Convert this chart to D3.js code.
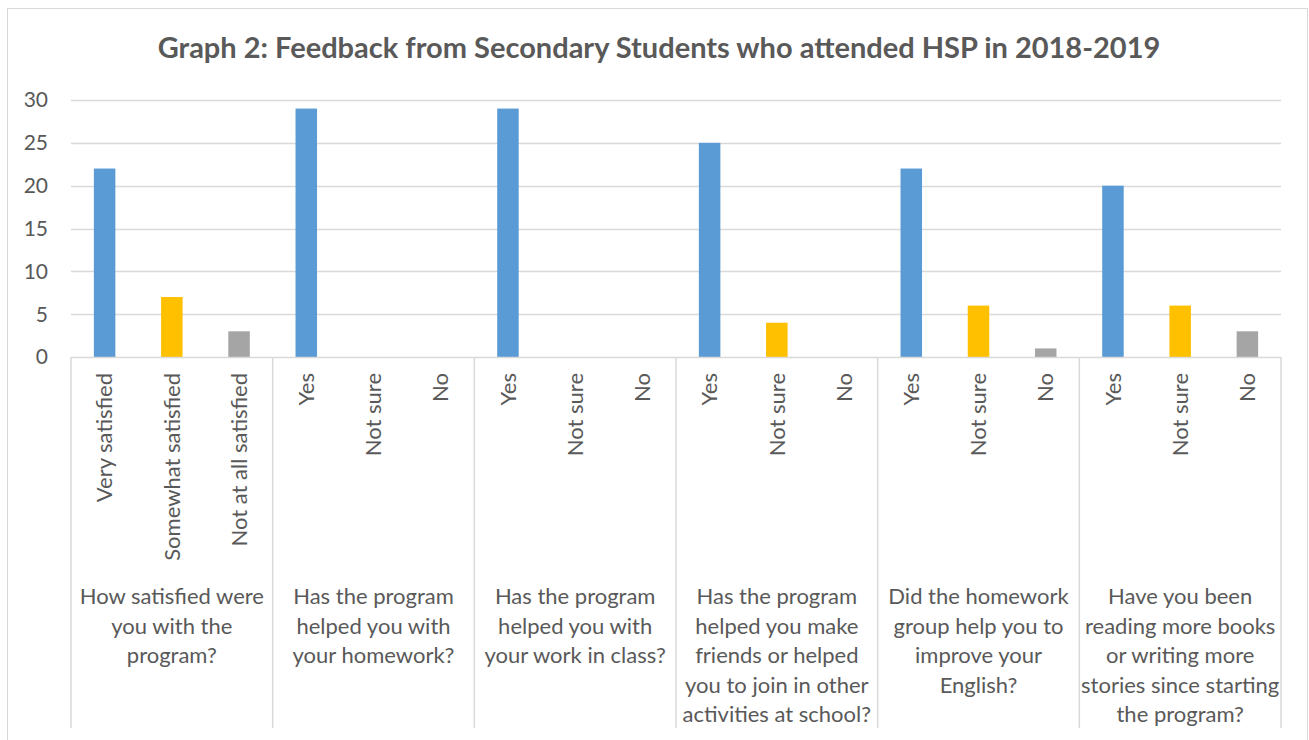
<!DOCTYPE html>
<html>
<head>
<meta charset="utf-8">
<script src="https://cdn.jsdelivr.net/npm/d3@7"></script>
<style>
  body { margin: 0; background: #fff; }
  svg { display: block; font-family: Lato, "Open Sans", sans-serif; }
</style>
</head>
<body>
<div id="chart"></div>
<script>
// groups (questions) and the answer options under each
var groups = [
  ["How satisfied were", "you with the", "program?"],
  ["Has the program", "helped you with", "your homework?"],
  ["Has the program", "helped you with", "your work in class?"],
  ["Has the program", "helped you make", "friends or helped", "you to join in other", "activities at school?"],
  ["Did the homework", "group help you to", "improve your", "English?"],
  ["Have you been", "reading more books", "or writing more", "stories since starting", "the program?"]
];
var answers = [
  ["Very satisfied", "Somewhat satisfied", "Not at all satisfied"],
  ["Yes", "Not sure", "No"],
  ["Yes", "Not sure", "No"],
  ["Yes", "Not sure", "No"],
  ["Yes", "Not sure", "No"],
  ["Yes", "Not sure", "No"]
];
var counts = [
  [22, 7, 3],
  [29, 0, 0],
  [29, 0, 0],
  [25, 4, 0],
  [22, 6, 1],
  [20, 6, 3]
];
var colors = ["#5B9BD5", "#FFC000", "#A5A5A5"];
var yTicks = [0, 5, 10, 15, 20, 25, 30];
var title = "Graph 2: Feedback from Secondary Students who attended HSP in 2018-2019";

var W = 1309, H = 740;
var margin = {left: 71, right: 28, top: 100, bottom: 383};

var svg = d3.select("#chart").append("svg")
  .attr("width", W).attr("height", H);

// chart border
svg.append("rect")
  .attr("x", 7.5).attr("y", 8.5)
  .attr("width", 1300).attr("height", 760)
  .attr("fill", "none").attr("stroke", "#d9d9d9");

svg.append("text")
  .attr("x", 659).attr("y", 58)
  .attr("text-anchor", "middle")
  .attr("fill", "#595959")
  .style("font-size", "29px").style("font-weight", "bold")
  .text(title);

// flatten into one row per bar
var rows = [];
counts.forEach(function(g, gi) {
  g.forEach(function(v, ai) {
    rows.push({g: gi, a: ai, key: gi + "-" + ai, label: answers[gi][ai], value: v});
  });
});

var x = d3.scaleBand()
  .domain(rows.map(function(d) { return d.key; }))
  .range([margin.left, W - margin.right])
  .paddingInner(0.68).paddingOuter(0.34);

var y = d3.scaleLinear().domain([0, 30]).range([H - margin.bottom, margin.top]);

// gridlines
svg.append("g").selectAll("line")
  .data(yTicks.slice(1))
  .enter().append("line")
  .attr("x1", margin.left).attr("x2", W - margin.right)
  .attr("y1", function(d) { return Math.round(y(d)) + 0.5; })
  .attr("y2", function(d) { return Math.round(y(d)) + 0.5; })
  .attr("stroke", "#d9d9d9").attr("stroke-width", 1.5);

// y tick labels
svg.append("g").selectAll("text")
  .data(yTicks)
  .enter().append("text")
  .attr("x", 48).attr("y", function(d) { return y(d); })
  .attr("dy", "0.35em")
  .attr("text-anchor", "end")
  .attr("fill", "#595959")
  .style("font-size", "21px")
  .text(function(d) { return d; });

// bars
svg.append("g").selectAll("rect")
  .data(rows)
  .enter().append("rect")
  .attr("x", function(d) { return x(d.key); })
  .attr("width", x.bandwidth())
  .attr("y", function(d) { return y(d.value); })
  .attr("height", function(d) { return y(0) - y(d.value); })
  .attr("fill", function(d) { return colors[d.a]; });

// x axis line
svg.append("line")
  .attr("x1", margin.left).attr("x2", W - margin.right)
  .attr("y1", y(0) + 0.5).attr("y2", y(0) + 0.5)
  .attr("stroke", "#d9d9d9").attr("stroke-width", 1.5);

// group separators
var groupW = (W - margin.right - margin.left) / groups.length;
svg.append("g").selectAll("line")
  .data(d3.range(groups.length + 1))
  .enter().append("line")
  .attr("x1", function(i) { return margin.left + i * groupW; })
  .attr("x2", function(i) { return margin.left + i * groupW; })
  .attr("y1", y(0)).attr("y2", 728)
  .attr("stroke", "#d9d9d9").attr("stroke-width", 1.5);

// answer labels (rotated)
svg.append("g").selectAll("text")
  .data(rows)
  .enter().append("text")
  .attr("transform", function(d) {
    return "translate(" + (x(d.key) + x.bandwidth() / 2) + "," + (y(0) + 16) + ") rotate(-90)";
  })
  .attr("dy", "0.35em")
  .attr("text-anchor", "end")
  .attr("fill", "#595959")
  .style("font-size", "22px")
  .text(function(d) { return d.label; });

// group labels
svg.append("g").selectAll("text")
  .data(groups)
  .enter().append("text")
  .attr("text-anchor", "middle")
  .attr("fill", "#595959")
  .style("font-size", "22px")
  .each(function(lines, i) {
    var t = d3.select(this);
    lines.forEach(function(l, li) {
      t.append("tspan")
        .attr("x", margin.left + (i + 0.5) * groupW)
        .attr("y", 604 + li * 29.5)
        .text(l);
    });
  });
</script>
</body>
</html>
